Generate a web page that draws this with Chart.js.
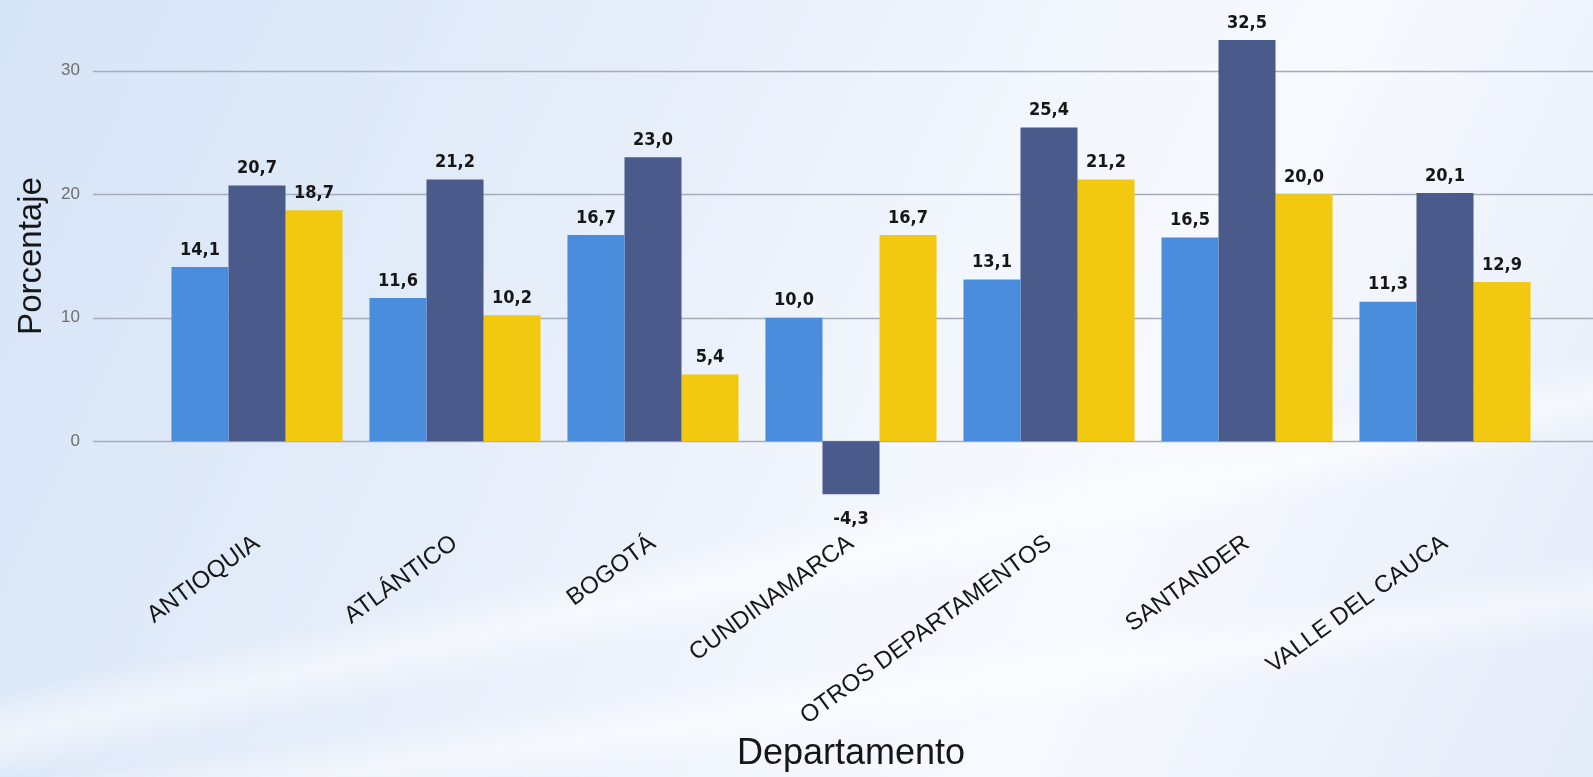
<!DOCTYPE html>
<html lang="es">
<head>
<meta charset="utf-8">
<title>Porcentaje por departamento</title>
<script src="https://cdn.jsdelivr.net/npm/chart.js@4/dist/chart.umd.min.js"></script>
<style>
    html, body {
        margin: 0;
        padding: 0;
        width: 1593px;
        height: 777px;
        overflow: hidden;
    }
    body {
        background:
            linear-gradient(168deg, rgba(255,255,255,0) 62%, rgba(255,255,255,0.55) 66%, rgba(255,255,255,0) 70%),
            linear-gradient(172deg, rgba(255,255,255,0) 78%, rgba(255,255,255,0.5) 82%, rgba(255,255,255,0) 86%),
            linear-gradient(115deg, #d6e4f7 0%, #e3ecf9 30%, #f2f6fd 55%, #f7f9fe 70%, #e3ebf8 100%);
    }
    #wrap {
        position: absolute;
        left: 0;
        top: 0;
        width: 1593px;
        height: 777px;
    }
</style>
</head>
<body>
<div id="wrap"><canvas id="graficoDepartamentos" width="1593" height="777"></canvas></div>
<script>
// Datos
const departamentos = ['ANTIOQUIA', 'ATLÁNTICO', 'BOGOTÁ', 'CUNDINAMARCA', 'OTROS DEPARTAMENTOS', 'SANTANDER', 'VALLE DEL CAUCA'];
const serieAzul = [14.1, 11.6, 16.7, 10.0, 13.1, 16.5, 11.3];
const serieMarino = [20.7, 21.2, 23.0, -4.3, 25.4, 32.5, 20.1];
const serieAmarilla = [18.7, 10.2, 5.4, 16.7, 21.2, 20.0, 12.9];
const ticksY = [0, 10, 20, 30];

document.addEventListener('DOMContentLoaded', function() {
    const ctx = document.getElementById('graficoDepartamentos').getContext('2d');

    // Líneas horizontales que van del eje hasta el borde derecho
    const lineasGuia = {
        id: 'lineasGuia',
        beforeDatasetsDraw(chart) {
            const y = chart.scales.y;
            const c = chart.ctx;
            c.save();
            c.strokeStyle = '#a6acb9';
            c.lineWidth = 1.5;
            ticksY.forEach(v => {
                const py = Math.round(y.getPixelForValue(v)) + 0.5;
                c.beginPath();
                c.moveTo(93, py);
                c.lineTo(chart.width, py);
                c.stroke();
            });
            c.restore();
        }
    };

    // Etiquetas con el valor encima (o debajo) de cada barra
    const etiquetasValor = {
        id: 'etiquetasValor',
        afterDatasetsDraw(chart) {
            const c = chart.ctx;
            c.save();
            c.font = "bold 18px 'DejaVu Sans Condensed', 'DejaVu Sans', sans-serif";
            c.fillStyle = '#161616';
            c.textAlign = 'center';
            chart.data.datasets.forEach((ds, i) => {
                chart.getDatasetMeta(i).data.forEach((bar, j) => {
                    const v = ds.data[j];
                    const txt = v.toFixed(1).replace('.', ',');
                    if (v >= 0) {
                        c.textBaseline = 'bottom';
                        c.fillText(txt, bar.x, bar.y - 8);
                    } else {
                        c.textBaseline = 'top';
                        c.fillText(txt, bar.x, bar.y + 16);
                    }
                });
            });
            c.restore();
        }
    };

    new Chart(ctx, {
        type: 'bar',
        data: {
            labels: departamentos,
            datasets: [
                { label: 'Serie 1', data: serieAzul, backgroundColor: '#4a8ddc' },
                { label: 'Serie 2', data: serieMarino, backgroundColor: '#4a5b8b' },
                { label: 'Serie 3', data: serieAmarilla, backgroundColor: '#f2c811' }
            ]
        },
        options: {
            responsive: false,
            animation: false,
            layout: { padding: { left: 12, right: 49, top: 9, bottom: 0 } },
            plugins: {
                legend: { display: false },
                tooltip: { enabled: false }
            },
            datasets: {
                bar: { categoryPercentage: 0.864, barPercentage: 1.0 }
            },
            scales: {
                x: {
                    grid: { display: false, drawTicks: false },
                    border: { display: false },
                    ticks: {
                        color: '#161616',
                        font: { family: "'Liberation Sans', Arial, sans-serif", size: 24 },
                        minRotation: 36,
                        maxRotation: 36,
                        padding: 26,
                        autoSkip: false
                    },
                    title: {
                        display: true,
                        text: 'Departamento',
                        color: '#161616',
                        font: { family: "'Liberation Sans', Arial, sans-serif", size: 36 },
                        padding: { top: 0, bottom: 1 }
                    },
                    afterFit(scale) { scale.height = 274; }
                },
                y: {
                    min: -5,
                    max: 35,
                    grid: { display: false, drawTicks: false },
                    border: { display: false },
                    afterBuildTicks(scale) {
                        scale.ticks = ticksY.map(v => ({ value: v }));
                    },
                    ticks: {
                        color: '#6e6e6e',
                        font: { family: "'Liberation Sans', Arial, sans-serif", size: 17 },
                        padding: 78
                    },
                    title: {
                        display: true,
                        text: 'Porcentaje',
                        color: '#161616',
                        font: { family: "'Liberation Sans', Arial, sans-serif", size: 33 },
                        padding: { top: 0, bottom: 0 }
                    },
                    afterFit(scale) {
                        scale.width = 146;
                        scale.paddingTop = 0;
                        scale.paddingBottom = 0;
                    }
                }
            }
        },
        plugins: [lineasGuia, etiquetasValor]
    });
});
</script>
</body>
</html>
